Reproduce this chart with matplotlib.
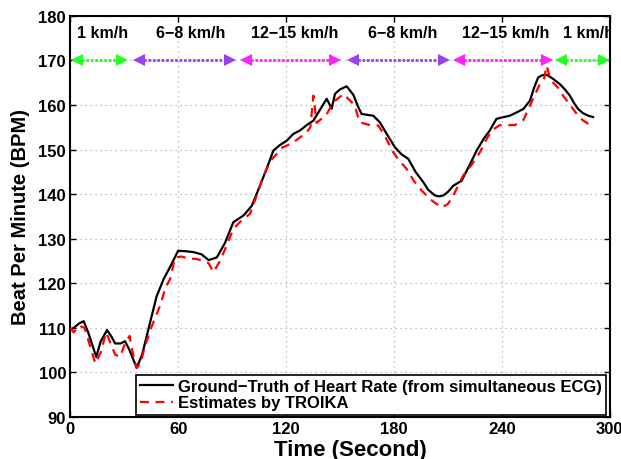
import matplotlib
matplotlib.use("Agg")
import matplotlib.pyplot as plt

# Ground truth heart rate (from ECG)
gt_t = [0, 2, 5, 7.5, 10, 14.5, 17, 20.5, 23, 25, 28, 30.5, 33, 37, 40, 43.5, 48, 52, 56, 60,
        64, 68.5, 73, 77, 81.5, 86, 90.7, 96.3, 101, 105.6, 109, 113, 116.5, 120.4, 124, 127.8,
        131.5, 135.2, 139, 142.6, 145.4, 147.2, 150, 153.7, 157.4, 160.2, 162, 165, 168.5, 172.2,
        176, 180.6, 184, 188, 192, 196.3, 199, 202.8, 205, 207.4, 210, 213, 217.6, 222, 226, 230,
        233.3, 237, 240, 244.4, 248, 251.9, 255.6, 258, 260.2, 262.5, 264.8, 268, 272.2, 275,
        277.8, 280, 282.4, 285, 288, 290.7]
gt_v = [109.5, 110, 111, 111.5, 109, 103.5, 107, 109.5, 108, 106.5, 106.5, 107, 105, 101, 104,
        109.7, 117, 121, 124, 127.3, 127.2, 127, 126.5, 125.2, 125.8, 129, 133.7, 135.2, 137.4,
        142, 145.5, 149.8, 151, 152, 153.5, 154.3, 155.5, 156.5, 159, 161.4, 159.2, 162.5, 163.5,
        164.2, 162.3, 159.5, 158, 157.8, 157.6, 156.1, 153.5, 150.5, 149, 147.9, 145, 142.7, 141,
        139.7, 139.5, 139.7, 140.5, 141.9, 143, 146.5, 149.8, 152.5, 154.3, 156.9, 157.2, 157.6,
        158.3, 159.1, 161, 164, 166.2, 166.7, 166.8, 166, 164.7, 163.5, 162.1, 160.5, 159.1,
        158.2, 157.6, 157.3]

# TROIKA estimates
est_t = [0, 2, 5, 8, 11, 14, 17, 20, 23, 25, 27.8, 30, 33, 35, 37, 39, 41.7, 45, 50, 53, 55.6,
         58.3, 62, 66, 70, 74, 77, 79.6, 83.3, 87, 90.7, 95, 100, 103.7, 106.5, 109.3, 112, 114.8,
         118, 121, 124, 128, 131.5, 133.5, 135.2, 137, 140, 142.6, 146.3, 149, 151.9, 155.6, 158,
         161, 166.7, 171.3, 175, 179.6, 183, 187, 191, 195, 200, 203, 206.5, 210, 213, 218.5, 223,
         227.8, 231, 234.3, 238.9, 243, 247.2, 251.9, 255.6, 258, 261.1, 263.5, 264.8, 266.5,
         268.5, 271, 274, 277, 279.6, 282.5, 285.2, 288, 290.7]
est_v = [110, 109, 110.5, 110, 106, 102, 104.5, 109, 106, 104, 103.5, 106, 108.2, 104, 101, 102,
         106, 110, 115, 119, 121, 125.8, 126, 125.5, 125.5, 125, 124.5, 122.5, 125, 128.5, 132.2,
         134, 135.6, 139.7, 143, 145.7, 147.8, 149, 150.5, 151, 151.6, 152.8, 153.9, 155, 162.1,
         156, 157, 157.9, 160.7, 161.5, 162.5, 161, 160, 156.1, 155.5, 155.4, 153, 149.4, 147.5,
         145.7, 143, 141, 138.9, 138, 137, 137.8, 139.7, 144.2, 146.5, 149.4, 152, 154.3, 155.5,
         155.5, 155.5, 156.6, 159.9, 162, 164.7, 166, 168.8, 166.5, 165, 164, 162.1, 160.5, 159.1,
         157.5, 156.5, 155.8, 155.4]

# Speed phases
phase_labels = ["1 km/h", "6\u22128 km/h", "12\u221215 km/h", "6\u22128 km/h", "12\u221215 km/h", "1 km/h"]
phase_start = [1, 35, 95, 154, 213, 270]
phase_end = [32, 92, 150, 211, 268, 300]
phase_label_x = [18, 67, 125, 185, 242, 288]
phase_colors = ["#22ff22", "#9a40f0", "#ff22ff", "#9a40f0", "#ff22ff", "#22ff22"]
phase_y = 170
label_y = 176.3

xticks = [0, 60, 120, 180, 240, 300]
yticks = [90, 100, 110, 120, 130, 140, 150, 160, 170, 180]

plt.rcParams['font.family'] = ['Liberation Sans', 'DejaVu Sans']
fig = plt.figure(figsize=(6.21, 4.6), dpi=100)
ax = fig.add_axes([0.113, 0.0913, 0.869, 0.872])

ax.plot(gt_t, gt_v, color='black', lw=1.6, label='Ground\u2212Truth of Heart Rate (from simultaneous ECG)', zorder=3)
ax.plot(est_t, est_v, color='red', lw=1.6, ls=(0, (4, 3)), label='Estimates by TROIKA', zorder=3)

head = 3.0  # half-length of an arrow head in data units (seconds)
for s, e, c in zip(phase_start, phase_end, phase_colors):
    ax.plot([s + head, e - head], [phase_y, phase_y], color=c, lw=2.0, ls=(0, (1, 0.6)),
            zorder=4, clip_on=False)
    ax.plot([s + head], [phase_y], marker='<', color=c, ms=8, mew=0, zorder=5, clip_on=False)
    ax.plot([e - head], [phase_y], marker='>', color=c, ms=8, mew=0, zorder=5, clip_on=False)
for lx, lab in zip(phase_label_x, phase_labels):
    ax.text(lx, label_y, lab, ha='center', va='center', fontsize=11.5, fontweight='bold', clip_on=True)

ax.set_xlim(0, 300)
ax.set_ylim(90, 180)
ax.set_xticks(xticks)
ax.set_yticks(yticks)
ax.tick_params(direction='in', top=True, right=True, length=4, width=1, labelsize=12, pad=3)
for lab in ax.get_xticklabels() + ax.get_yticklabels():
    lab.set_fontweight('bold')
ax.grid(True, color='#aaaaaa', ls=(0, (1, 3)), lw=0.9)
for sp in ax.spines.values():
    sp.set_linewidth(1.5)

ax.set_xlabel('Time (Second)', fontsize=16, fontweight='bold', labelpad=-2)
ax.xaxis.set_label_coords(0.52, -0.055)
ax.set_ylabel('Beat Per Minute (BPM)', fontsize=14.5, fontweight='bold', labelpad=6)

leg = ax.legend(loc='lower right', bbox_to_anchor=(0.993, 0.006),
                prop={'weight': 'bold', 'size': 12}, fancybox=False, framealpha=1,
                edgecolor='black', handlelength=2.0, handletextpad=0.3, borderpad=0.25,
                labelspacing=0.1, borderaxespad=0)
leg.get_frame().set_linewidth(1.2)

fig.savefig('out.png', dpi=100)
